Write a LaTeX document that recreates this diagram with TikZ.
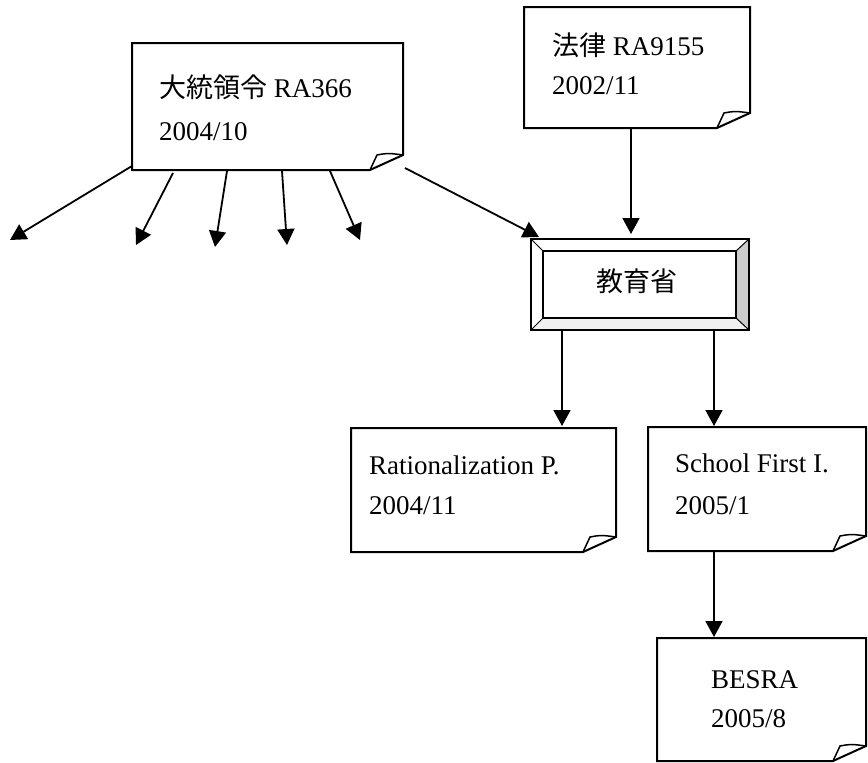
\documentclass[tikz,border=0pt]{standalone}
\usepackage{fontspec}
\setmainfont{Liberation Serif}
\newfontfamily\cjk{Noto Sans CJK JP}
\usetikzlibrary{arrows.meta}
\tikzset{
  boxnode/.style={draw=none,inner sep=0pt,outer sep=0pt,anchor=north west},
  txt/.style={anchor=base west,inner sep=0pt,font=\fontsize{27}{32}\selectfont},
  conn/.style={line width=1.8pt,-{Triangle[length=16pt,width=17pt]}},
  outline/.style={line width=2pt},
}
\newcommand\foldnote[1]{%
  \draw[outline,fill=white] (#1.north west) -- (#1.north east) -- ([yshift=15pt]#1.south east)
     -- ([xshift=-33pt]#1.south east) -- (#1.south west) -- cycle;
  \draw[line width=1.5pt] ([xshift=-33pt]#1.south east) -- ([xshift=-26pt,yshift=15pt]#1.south east)
     .. controls ([xshift=-15pt,yshift=17pt]#1.south east) .. ([yshift=15pt]#1.south east);
}
\begin{document}
\begin{tikzpicture}[x=1pt,y=-1pt]
\useasboundingbox (0,0) rectangle (868,763);
% boxes
\node[boxnode,minimum width=271pt,minimum height=127pt] (A) at (132,43) {};
\node[boxnode,minimum width=226pt,minimum height=121pt] (B) at (524,7) {};
\node[boxnode,minimum width=218pt,minimum height=91pt] (E) at (531,239) {};
\node[boxnode,minimum width=265pt,minimum height=124pt] (R) at (351,428) {};
\node[boxnode,minimum width=218pt,minimum height=124pt] (S) at (648,427) {};
\node[boxnode,minimum width=209pt,minimum height=123pt] (T) at (657,638) {};
\foldnote{A}
\foldnote{B}
\foldnote{R}
\foldnote{S}
\foldnote{T}
% bevel box
\coordinate (Ei1) at ([shift={(12pt,-12pt)}]E.north west);
\coordinate (Ei2) at ([shift={(-13pt,12pt)}]E.south east);
\fill[gray!40] (E.north east) -- (E.south east) -- (Ei2) -- (Ei1 -| Ei2) -- cycle;
\fill[gray!12] (E.south west) -- (E.south east) -- (Ei2) -- (Ei1 |- Ei2) -- cycle;
\draw[outline] (E.north west) rectangle (E.south east);
\draw[line width=1.3pt] (Ei1) rectangle (Ei2);
\draw[line width=1pt] (E.north west) -- (Ei1) (E.north east) -- (Ei1 -| Ei2)
  (E.south east) -- (Ei2) (E.south west) -- (Ei1 |- Ei2);
% texts
\node[txt] (a1) at (159,97) {{\cjk 大統領令} RA366};
\node[txt] (a2) at (159,140) {2004/10};
\node[txt] (b1) at (552,55) {{\cjk 法律} RA9155};
\node[txt] (b2) at (552,94) {2002/11};
\node[txt,anchor=center] (e1) at (637,281) {\cjk 教育省};
\node[txt] (r1) at (369,474) {Rationalization P.};
\node[txt] (r2) at (369,514) {2004/11};
\node[txt] (s1) at (675,472) {School First I.};
\node[txt] (s2) at (675,514) {2005/1};
\node[txt] (t1) at (711,688) {BESRA};
\node[txt] (t2) at (711,727) {2005/8};
% free ends
\coordinate (f1) at (10,240);
\coordinate (f2) at (136,245);
\coordinate (f3) at (215,247);
\coordinate (f4) at (287,245);
\coordinate (f5) at (360,240);
\coordinate (xa) at (631,0);
\coordinate (xb) at (562,0);
\coordinate (xc) at (714,0);
% connectors
\draw[conn] ([yshift=4pt]A.south west) -- (f1);
\draw[conn] ([xshift=41pt,yshift=-3pt]A.south west) -- (f2);
\draw[conn] ([xshift=95pt,yshift=-1pt]A.south west) -- (f3);
\draw[conn] ([xshift=150pt,yshift=-1pt]A.south west) -- (f4);
\draw[conn] ([xshift=198pt,yshift=-1pt]A.south west) -- (f5);
\draw[conn] ([xshift=2pt,yshift=2pt]A.south east) -- ([xshift=8pt,yshift=2pt]E.north west);
\draw[conn] (B.south -| xa) -- ([yshift=5pt]E.north -| xa);
\draw[conn] (E.south -| xb) -- ([yshift=2pt]R.north -| xb);
\draw[conn] (E.south -| xc) -- ([yshift=1pt]S.north -| xc);
\draw[conn] (S.south -| xc) -- ([yshift=1pt]T.north -| xc);
\end{tikzpicture}
\end{document}
